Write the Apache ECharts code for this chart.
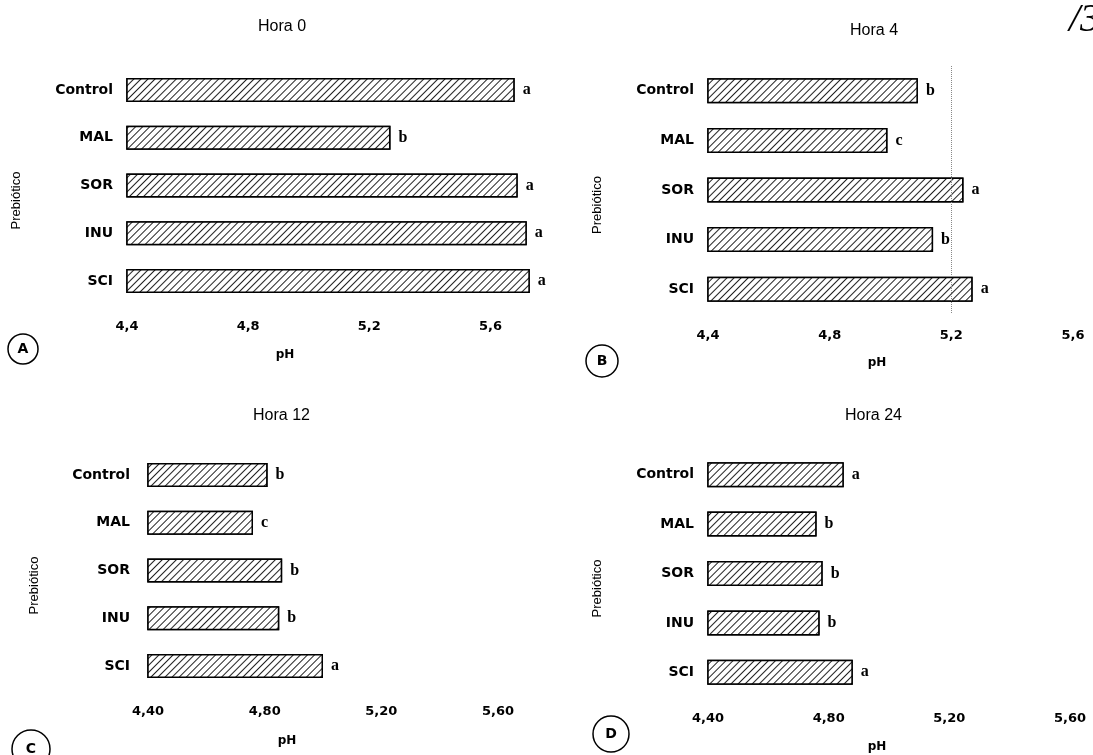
<!DOCTYPE html>
<html><head><meta charset="utf-8">
<script src="https://cdn.jsdelivr.net/npm/echarts@6/dist/echarts.min.js"></script>
<style>html,body{margin:0;padding:0;background:#fff}#c{width:1093px;height:755px}</style>
</head><body><div id="c"></div>
<script>
// ---- data ----
const categories = ['Control', 'MAL', 'SOR', 'INU', 'SCI'];
const hora0  = [5.68, 5.27, 5.69, 5.72, 5.73];
const hora4  = [5.09, 4.99, 5.24, 5.14, 5.27];
const hora12 = [4.81, 4.76, 4.86, 4.85, 5.00];
const hora24 = [4.85, 4.76, 4.78, 4.77, 4.88];
const letters0  = ['a', 'b', 'a', 'a', 'a'];
const letters4  = ['b', 'c', 'a', 'b', 'a'];
const letters12 = ['b', 'c', 'b', 'b', 'a'];
const letters24 = ['a', 'b', 'b', 'b', 'a'];
const ticksTop    = ['4,4', '4,8', '5,2', '5,6'];
const ticksBottom = ['4,40', '4,80', '5,20', '5,60'];
const titles = ['Hora 0', 'Hora 4', 'Hora 12', 'Hora 24'];
const panelTags = ['A', 'B', 'C', 'D'];
const axisName = 'pH';
const catAxisName = 'Prebiótico';

// ---- layout (positions/styles) ----
const panels = [
  {data: hora0,  letters: letters0,  ticks: ticksTop,    grid: {left: 127, top: 66,  width: 424, height: 239}, max: 5.8, barW: 24, nameGap: 44, namePad: 108, yGap: 104, title: {left: 253, top: 14}, tag: [23, 349, 15]},
  {data: hora4,  letters: letters4,  ticks: ticksTop,    grid: {left: 708, top: 66,  width: 365, height: 248}, max: 5.6, barW: 25, nameGap: 43, namePad: 27,  yGap: 104, title: {left: 845, top: 18}, tag: [602, 361, 16]},
  {data: hora12, letters: letters12, ticks: ticksBottom, grid: {left: 148, top: 451, width: 350, height: 239}, max: 5.6, barW: 24, nameGap: 45, namePad: 72,  yGap: 107, title: {left: 248, top: 403}, tag: [31, 749, 19]},
  {data: hora24, letters: letters24, ticks: ticksBottom, grid: {left: 708, top: 450, width: 362, height: 247}, max: 5.6, barW: 25, nameGap: 44, namePad: 24,  yGap: 104, title: {left: 840, top: 403}, tag: [611, 734, 18]}
];

function tickFmt(labels) {
  return function (v) {
    const i = Math.round((v - 4.4) / 0.4);
    if (i < 0 || i >= labels.length || Math.abs(4.4 + i * 0.4 - v) > 1e-6) return '';
    return labels[i];
  };
}

const boldFont = 'DejaVu Sans';
const option = {
  animation: false,
  backgroundColor: '#fff',
  title: panels.map((p, i) => ({
    text: titles[i], left: p.title.left, top: p.title.top,
    textStyle: {fontFamily: 'Liberation Sans', fontWeight: 'normal', fontSize: 16, color: '#000'}
  })),
  grid: panels.map(p => Object.assign({containLabel: false}, p.grid)),
  xAxis: panels.map((p, i) => ({
    type: 'value', gridIndex: i, min: 4.4, max: p.max, interval: 0.4,
    axisLine: {show: false}, axisTick: {show: false}, splitLine: {show: false},
    axisLabel: {margin: 15, color: '#000', fontFamily: boldFont, fontWeight: 'bold', fontSize: 13, formatter: tickFmt(p.ticks)},
    name: axisName, nameLocation: 'middle', nameGap: p.nameGap,
    nameTextStyle: {color: '#000', fontFamily: boldFont, fontWeight: 'bold', fontSize: 12, padding: [0, p.namePad, 0, 0]}
  })),
  yAxis: panels.map((p, i) => ({
    type: 'category', gridIndex: i, data: categories, inverse: true,
    axisLine: {show: false}, axisTick: {show: false}, splitLine: {show: false},
    axisLabel: {margin: i === 2 ? 18 : 14, color: '#000', fontFamily: boldFont, fontWeight: 'bold', fontSize: 14},
    name: catAxisName, nameLocation: 'middle', nameGap: p.yGap,
    nameTextStyle: {color: '#000', fontFamily: 'Liberation Sans Narrow, Liberation Sans', fontSize: 13, padding: [0, 30, 0, 0]}
  })),
  series: panels.map((p, i) => ({
    type: 'bar', xAxisIndex: i, yAxisIndex: i, data: p.data, barWidth: p.barW,
    itemStyle: {
      color: '#fff', borderColor: '#000', borderWidth: 1.5,
      decal: {symbol: 'rect', symbolSize: 1, dashArrayX: [1, 0], dashArrayY: [1, 3.6], rotation: -Math.PI / 4, color: '#222', backgroundColor: '#fff'}
    },
    label: {
      show: true, position: 'right', distance: 8,
      formatter: (q) => p.letters[q.dataIndex],
      fontFamily: 'Liberation Serif', fontWeight: 'bold', fontSize: 16, color: '#000'
    },
    markLine: i === 1 ? {
      silent: true, symbol: 'none', label: {show: false},
      lineStyle: {type: 'dotted', color: '#888', width: 1},
      data: [{xAxis: 5.2}]
    } : undefined
  })),
  graphic: panels.map((p, i) => ({
    type: 'group', children: [
      {type: 'circle', shape: {cx: p.tag[0], cy: p.tag[1], r: p.tag[2]}, style: {fill: 'none', stroke: '#000', lineWidth: 1.5}},
      {type: 'text', x: p.tag[0], y: p.tag[1], style: {text: panelTags[i], align: 'center', verticalAlign: 'middle', font: 'bold 14px DejaVu Sans', fill: '#000'}}
    ]
  })).concat([
    {type: 'text', x: 1069, y: 0, style: {text: '/3', font: 'italic 40px Liberation Serif', fill: '#000'}}
  ])
};

const chart = echarts.init(document.getElementById('c'), null, {renderer: 'canvas'});
chart.setOption(option);
</script>
</body></html>
